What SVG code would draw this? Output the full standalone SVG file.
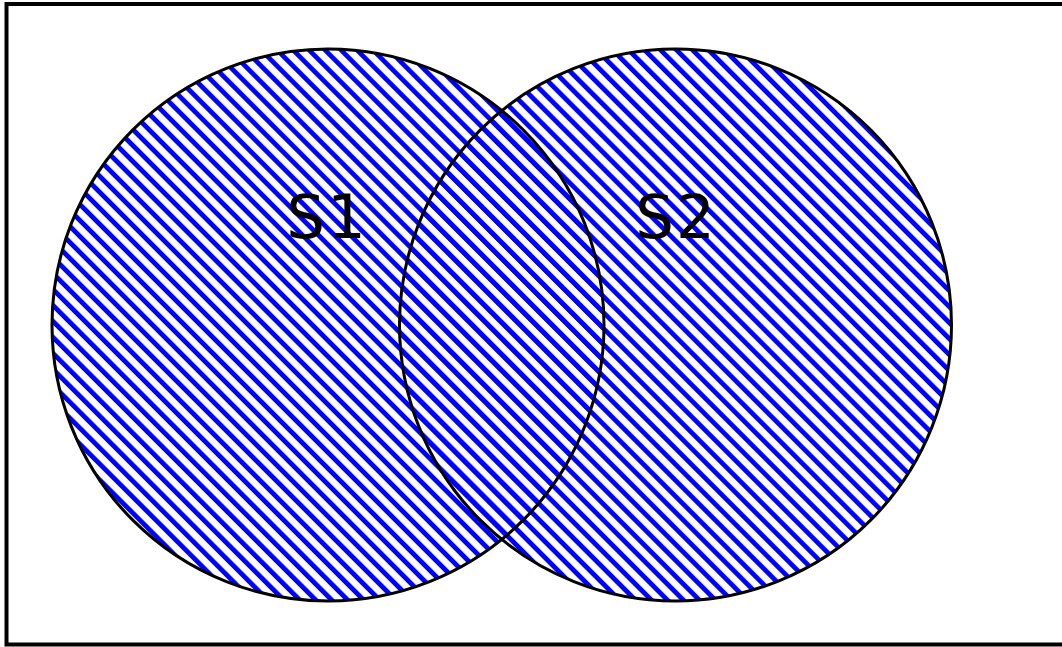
<svg xmlns="http://www.w3.org/2000/svg" width="1062" height="647" viewBox="0 0 1062 647">
  <style>
    .frame { fill: #ffffff; stroke: #000000; stroke-width: 4; }
    .set-fill { fill: url(#hatch); stroke: none; }
    .set-edge { fill: none; stroke: #000000; stroke-width: 3; }
    .label { font-family: "DejaVu Sans", "Liberation Sans", sans-serif; font-size: 61px; fill: #000000; text-anchor: middle; letter-spacing: 2px; }
  </style>
  <defs>
    <pattern id="hatch" patternUnits="userSpaceOnUse" width="11.3" height="11.3" patternTransform="rotate(-45)">
      <rect x="0" y="0" width="4.8" height="11.3" fill="#0000ff"/>
    </pattern>
  </defs>
  <rect class="frame" x="6.5" y="4" width="1100" height="640.5"/>
  <g id="S1">
    <circle class="set-fill" cx="328" cy="325" r="276"/>
  </g>
  <g id="S2">
    <circle class="set-fill" cx="675.5" cy="325" r="276"/>
  </g>
  <g id="edges">
    <circle class="set-edge" cx="328" cy="325" r="276"/>
    <circle class="set-edge" cx="675.5" cy="325" r="276"/>
  </g>
  <g id="labels">
    <text class="label" x="327" y="238">S1</text>
    <text class="label" x="676" y="238">S2</text>
  </g>
</svg>
